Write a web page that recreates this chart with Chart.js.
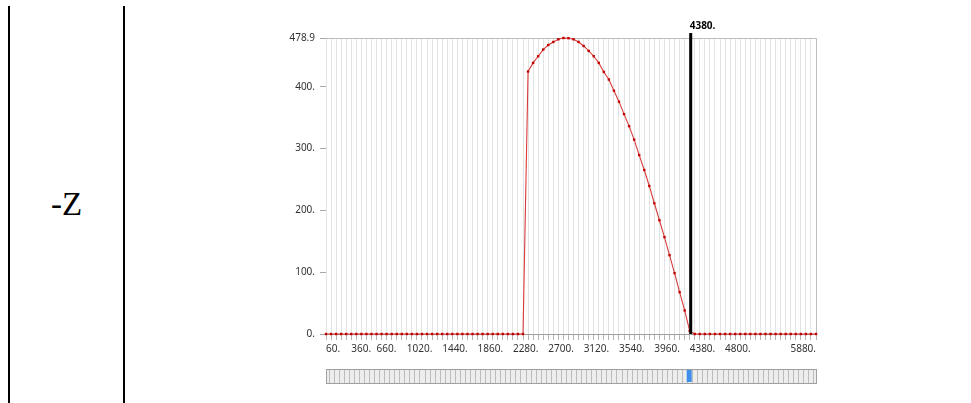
<!DOCTYPE html>
<html>
<head>
<meta charset="utf-8">
<script src="https://cdn.jsdelivr.net/npm/chart.js@4/dist/chart.umd.min.js"></script>
<style>
html,body{margin:0;padding:0;background:#fff;width:971px;height:403px;overflow:hidden;}
#wrap{position:relative;width:971px;height:403px;}
#c{position:absolute;left:0;top:0;}
.vl{position:absolute;top:6px;height:397px;width:2px;background:#000;}
#z{position:absolute;left:10px;width:113px;top:188px;line-height:33px;text-align:center;
   font-family:"Liberation Serif","DejaVu Serif",serif;font-size:33px;color:#000;}
</style>
</head>
<body>
<div id="wrap">
  <div class="vl" style="left:8px"></div>
  <div class="vl" style="left:123px"></div>
  <div id="z">-Z</div>
  <canvas id="c" width="971" height="403"></canvas>
</div>
<script>
// ---- data ----
const xValues = [60,120,180,240,300,360,420,480,540,600,660,720,780,840,900,960,1020,1080,1140,1200,
  1260,1320,1380,1440,1500,1560,1620,1680,1740,1800,1860,1920,1980,2040,2100,2160,2220,2280,2340,2400,
  2460,2520,2580,2640,2700,2760,2820,2880,2940,3000,3060,3120,3180,3240,3300,3360,3420,3480,3540,3600,
  3660,3720,3780,3840,3900,3960,4020,4080,4140,4200,4260,4320,4380,4440,4500,4560,4620,4680,4740,4800,
  4860,4920,4980,5040,5100,5160,5220,5280,5340,5400,5460,5520,5580,5640,5700,5760,5820,5880];
const yValues = [0,0,0,0,0,0,0,0,0,0,0,0,0,0,0,0,0,0,0,0,
  0,0,0,0,0,0,0,0,0,0,0,0,0,0,0,0,0,0,0,0,
  424.7,438.6,449.4,460.2,467.6,472.5,476.8,478.9,478.6,476.8,472.5,466,458,449.4,438.6,424,411.7,393.7,375.9,355.7,
  336.3,314.5,289.5,265.3,239.5,211.5,184,156.7,127.6,98.5,67.8,38.1,5,0,0,0,0,0,0,0,
  0,0,0,0,0,0,0,0,0,0,0,0,0,0,0,0,0,0];
const xTickLabels = [60,360,660,1020,1440,1860,2280,2700,3120,3540,3960,4380,4800,5880];
const yTickValues = [0,100,200,300,400,478.9];
const yMax = 478.9;
const markerX = 4380;

const points = xValues.map((x,i)=>({x:x, y:yValues[i]}));
const fmt = v => (Number.isInteger(v) ? v + '.' : String(v));
const FONT = '10px "Noto Sans", "Open Sans", sans-serif';

const decor = {
  id:'decor',
  beforeDatasetsDraw(chart){
    const {ctx, chartArea:a} = chart;
    ctx.save();
    ctx.strokeStyle = '#bdbdbd';
    ctx.lineWidth = 1;
    ctx.beginPath();
    ctx.moveTo(a.left, a.top + 0.5); ctx.lineTo(a.right + 0.5, a.top + 0.5);
    ctx.lineTo(a.right + 0.5, a.bottom);
    ctx.stroke();
    ctx.restore();
  },
  afterDatasetsDraw(chart){
    const {ctx, chartArea:a, scales:{x}} = chart;
    ctx.save();
    // marker line
    const mx = x.getPixelForValue(markerX) + 1;
    ctx.strokeStyle = '#000';
    ctx.lineWidth = 3;
    ctx.beginPath();
    ctx.moveTo(mx, a.top - 5); ctx.lineTo(mx, a.bottom);
    ctx.stroke();
    ctx.fillStyle = '#000';
    ctx.font = 'bold 10px "Noto Sans", "Open Sans", sans-serif';
    ctx.textAlign = 'left';
    ctx.textBaseline = 'alphabetic';
    ctx.fillText(fmt(markerX), mx - 1, a.top - 9);

    // x tick labels
    ctx.font = FONT;
    ctx.fillStyle = '#333';
    ctx.textBaseline = 'middle';
    xTickLabels.forEach((v,i)=>{
      const px = x.getPixelForValue(v);
      ctx.textAlign = (i === xTickLabels.length - 1) ? 'right' : 'left';
      ctx.fillText(fmt(v), px, a.bottom + 15.5);
    });

    // slider
    const sTop = a.bottom + 35, sH = 14;
    ctx.fillStyle = '#ededed';
    ctx.fillRect(a.left, sTop, a.right - a.left, sH);
    ctx.strokeStyle = '#bcbcbc';
    ctx.lineWidth = 1;
    ctx.beginPath();
    for (let i = 0; i < xValues.length - 1; i++) {
      const px = Math.round((x.getPixelForValue(xValues[i]) + x.getPixelForValue(xValues[i+1])) / 2) + 0.5;
      ctx.moveTo(px, sTop); ctx.lineTo(px, sTop + sH);
    }
    ctx.stroke();
    ctx.strokeStyle = '#a0a0a0';
    ctx.strokeRect(a.left + 0.5, sTop + 0.5, a.right - a.left, sH);
    ctx.fillStyle = '#3f8ee9';
    ctx.fillRect(mx - 4, sTop + 1, 5, sH - 2);
    ctx.restore();
  }
};

new Chart(document.getElementById('c'), {
  type:'line',
  data:{ datasets:[{
    data: points,
    borderColor:'#d83c3c',
    borderWidth:1.1,
    pointStyle:'rect',
    pointRadius:1.7,
    pointBackgroundColor:'#c00000',
    pointBorderColor:'#c00000',
    pointBorderWidth:0,
    tension:0,
    clip:false
  }]},
  options:{
    responsive:false,
    animation:false,
    devicePixelRatio:1,
    layout:{ padding:{ left:0, right:155, top:38, bottom:0 } },
    plugins:{ legend:{display:false}, tooltip:{enabled:false} },
    scales:{
      x:{
        type:'linear', min:60, max:5880,
        afterBuildTicks: s => { s.ticks = xValues.map(v=>({value:v})); },
        afterFit: s => { s.height = 69; },
        ticks:{ display:false },
        grid:{ color:'#e3e3e3', lineWidth:1, drawTicks:true, tickLength:6, tickColor:'#b5b5b5' },
        border:{ display:true, color:'#a0a0a0' }
      },
      y:{
        min:0, max:yMax,
        afterBuildTicks: s => { s.ticks = yTickValues.map(v=>({value:v})); },
        afterFit: s => { s.width = 326; },
        ticks:{ display:true, padding:5, color:'#333', font:{ family:'"Noto Sans", "Open Sans", sans-serif', size:10 },
                callback: v => fmt(v), autoSkip:false },
        grid:{ drawOnChartArea:false, drawTicks:true, tickLength:6, tickColor:'#a8a8a8' },
        border:{ display:false }
      }
    }
  },
  plugins:[decor]
});
</script>
</body>
</html>
